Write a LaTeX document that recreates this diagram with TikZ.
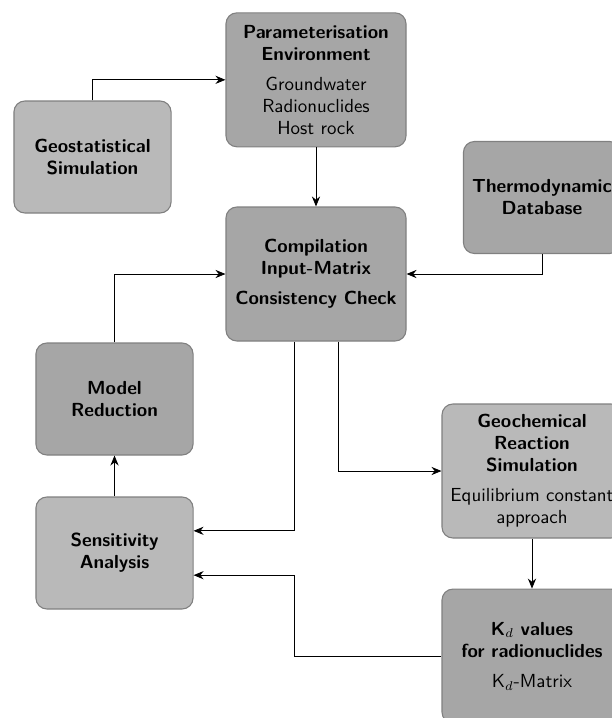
\documentclass[tikz,border=0pt]{standalone}
\usepackage{xcolor}
\usepackage{tikz}
\usetikzlibrary{arrows.meta, positioning}

\begin{document}
\begin{tikzpicture}[x=0.55pt, y=-0.55pt, >={Stealth[length=5.5pt, width=4.5pt, inset=1.8pt]},
    box/.style={draw=gray, line width=0.6pt, rounded corners=6pt, align=center, font=\sffamily\fontsize{10.4}{12.1}\selectfont},
    wide/.style={box, minimum width=99pt, minimum height=73.7pt},
    narrow/.style={box, minimum width=86.4pt, minimum height=61.6pt},
    lightbox/.style={fill=gray!55},
    darkbox/.style={fill=gray!70},
    flow/.style={->, line width=0.45pt}]
    \useasboundingbox (0,0) rectangle (612,718);

    % Compilation
    \node [wide, darkbox] (comp) at (316,274) {\textbf{Compilation}\\\textbf{Input-Matrix}\\[4.5pt]\textbf{Consistency Check}};

    % Parameterisation
    \node [wide, darkbox, above=32.5pt of comp] (param) {\textbf{Parameterisation}\\\textbf{Environment}\\[4.5pt]Groundwater\\Radionuclides\\Host rock};

    % Geostatistics
    \node [narrow, lightbox] (geo) at (92.5,157) {\textbf{Geostatistical}\\\textbf{Simulation}};
    \draw [flow] (geo.north) |- (param.west);
    \draw [flow] (param) -- (comp);

    % Database
    \node [narrow, darkbox] (thermo) at (542,197.5) {\textbf{Thermodynamic}\\\textbf{Database}};
    \draw [flow] (thermo.south) |- (comp.east);

    % Model reduction loop
    \node [narrow, darkbox] (model) at (114.5,399) {\textbf{Model}\\\textbf{Reduction}};
    \node [narrow, lightbox, below=22.5pt of model] (sens) {\textbf{Sensitivity}\\\textbf{Analysis}};
    \draw [flow] (model.north) |- (comp.west);
    \draw [flow] (sens) -- (model);

    % Geochemistry
    \node [wide, lightbox] (geochem) at (532,471) {\textbf{Geochemical}\\\textbf{Reaction}\\\textbf{Simulation}\\[4.5pt]Equilibrium constant\\approach};
    \node [wide, darkbox, below=27.5pt of geochem] (kd) {\textbf{K$_d$ values}\\\textbf{for radionuclides}\\[4.5pt]K$_d$-Matrix};
    \draw [flow] (geochem) -- (kd);

    % Branches below compilation
    \coordinate (comp_l) at ([xshift=-12pt]comp.south);
    \coordinate (comp_r) at ([xshift=12.5pt]comp.south);
    \coordinate (sens_hi) at ([yshift=12.2pt]sens.east);
    \coordinate (sens_lo) at ([yshift=-12.2pt]sens.east);
    \draw [flow] (comp_l) |- (sens_hi);
    \draw [flow] (comp_r) |- (geochem.west);
    \draw [flow] (kd.west) -| (comp_l |- sens_lo) -- (sens_lo);

\end{tikzpicture}
\end{document}
